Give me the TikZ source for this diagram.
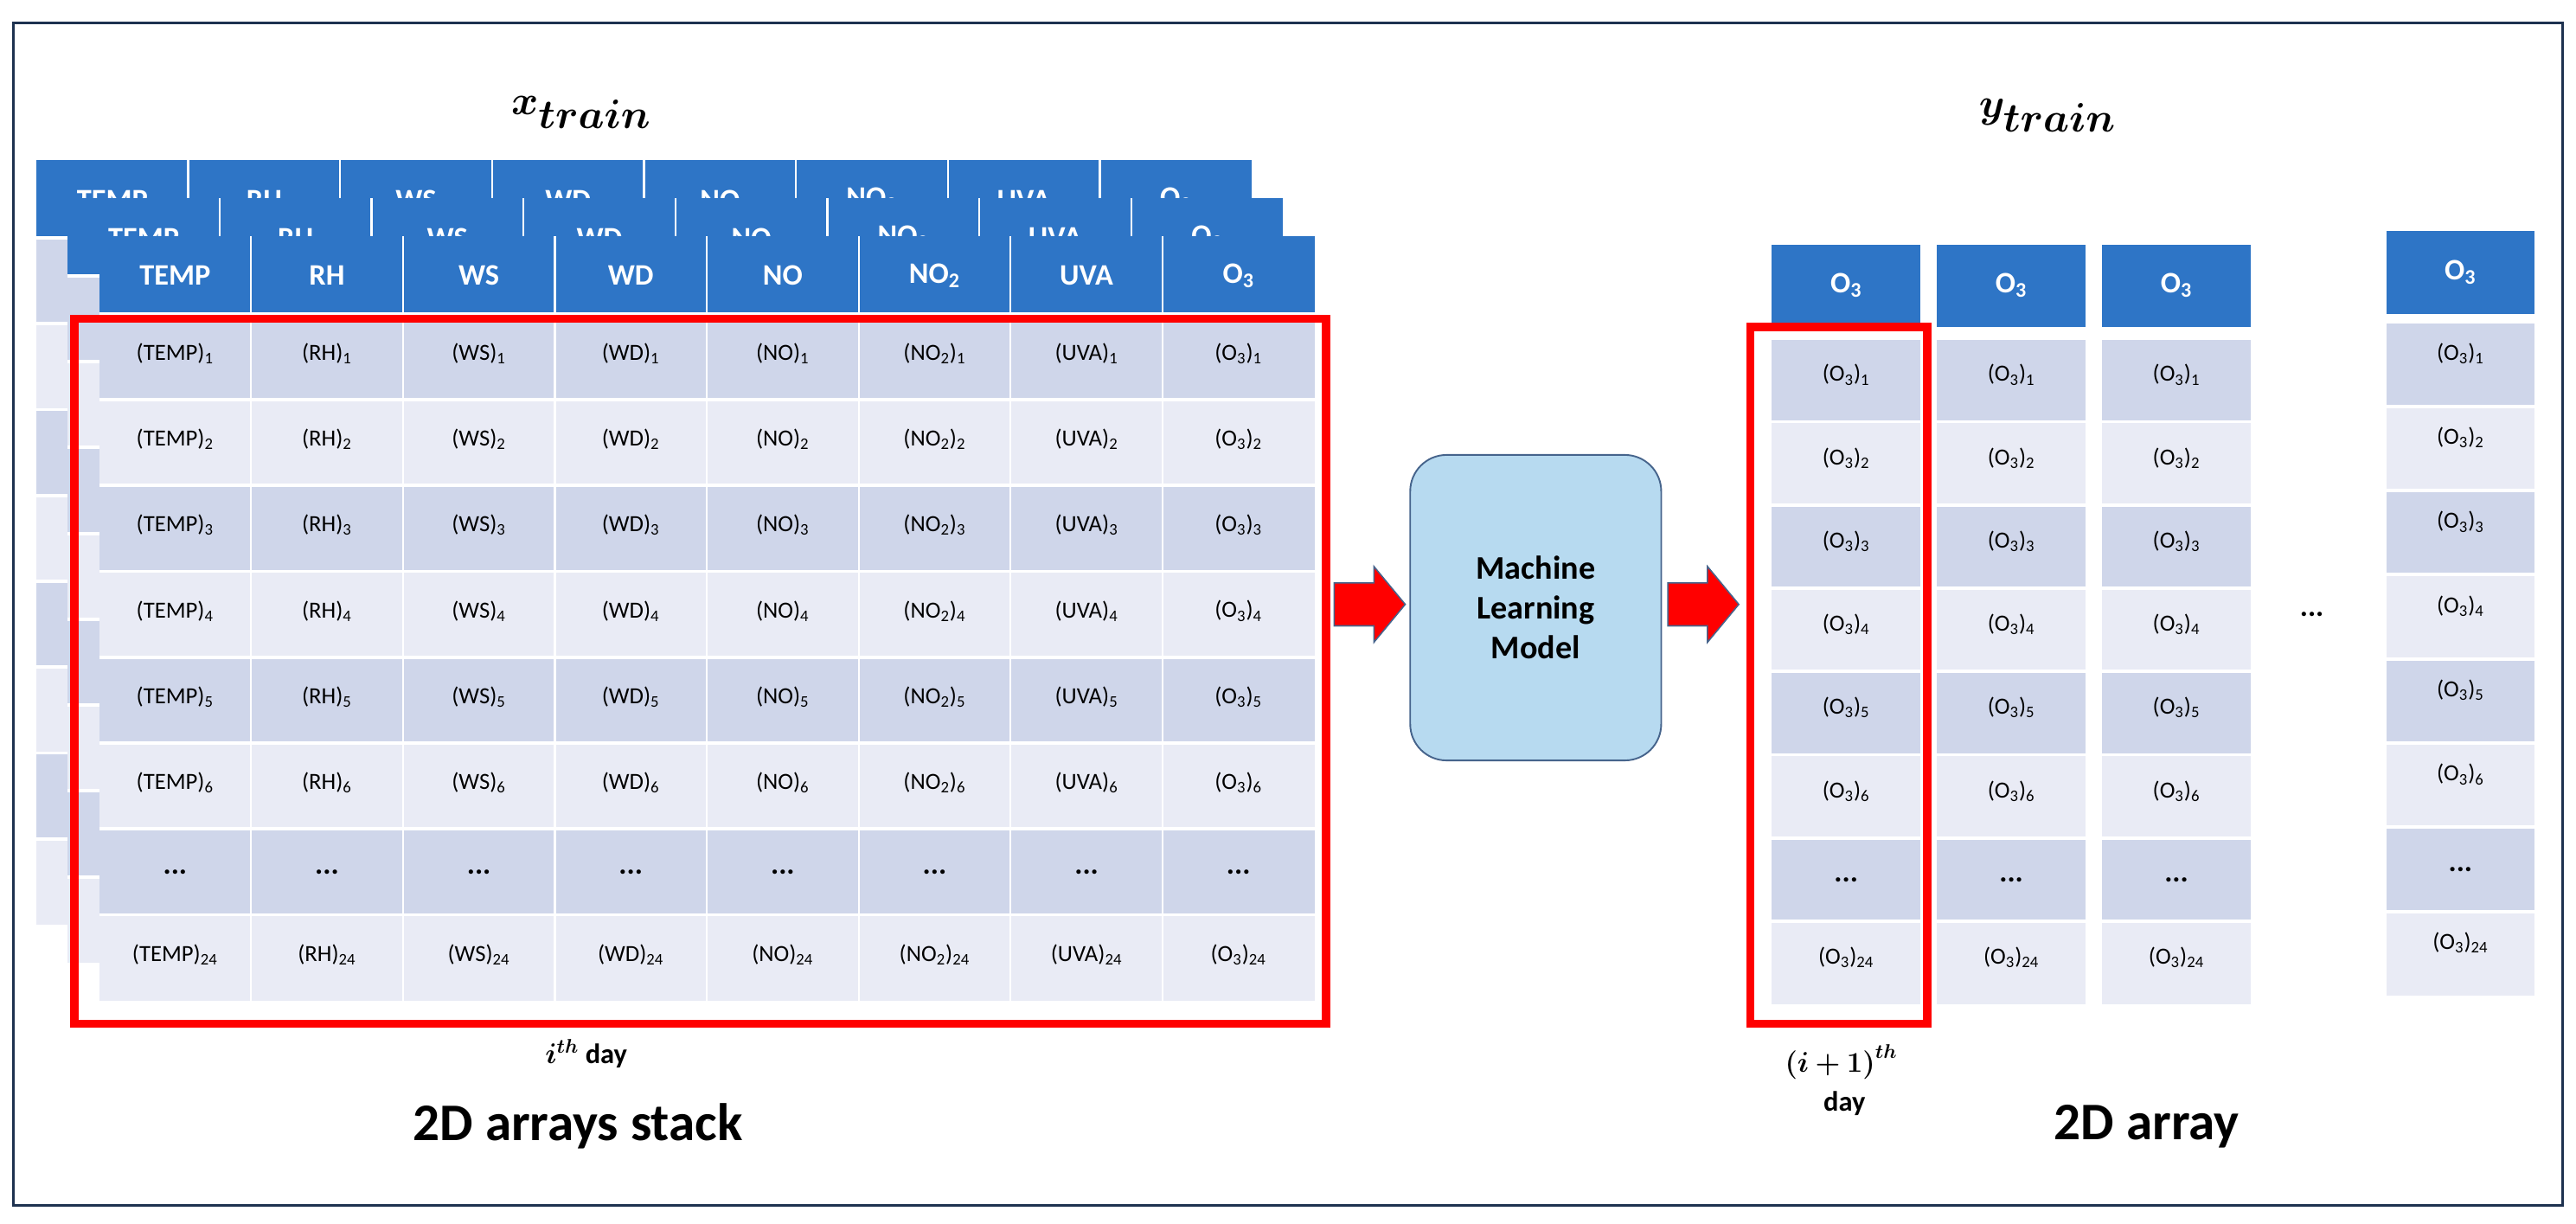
\documentclass[tikz,border=0pt]{standalone}
\usepackage{bm}
\usepackage{fontspec}
\setmainfont{Carlito}
\definecolor{hdr}{RGB}{46,117,198}
\definecolor{dk}{RGB}{207,214,234}
\definecolor{lt}{RGB}{233,235,245}
\definecolor{frm}{RGB}{30,50,80}
\definecolor{mlfill}{RGB}{183,218,240}
\definecolor{mlline}{RGB}{70,100,140}
\tikzset{
  hcell/.style={text=white,font=\fontsize{18}{20}\selectfont\bfseries},
  dcell/.style={text=black,font=\fontsize{14}{16}\selectfont},
  redbox/.style={draw=red,line width=5pt},
  blk/.style={fill=red,draw=mlline,line width=0.8pt},
  big/.style={font=\fontsize{32}{36}\selectfont\bfseries},
  ttl/.style={font=\fontsize{40}{44}\selectfont},
  lbl/.style={font=\fontsize{17}{20}\selectfont\bfseries},
}
\newcommand\drawtbl[2]{%
  \fill[hdr] (#1,#2) rectangle ++(736,47);
  \foreach \r in {0,...,7}{%
    \pgfmathsetmacro\rc{mod(\r,2)==0 ? 1 : 0}%
    \ifdim\rc pt>0.5pt \fill[dk] ({#1},{#2+47+52*\r}) rectangle ++(736,52);
    \else \fill[lt] ({#1},{#2+47+52*\r}) rectangle ++(736,52);\fi
    \draw[white,line width=2pt] ({#1},{#2+47+52*\r}) -- ++(736,0);
  }
  \foreach \i in {1,...,7}{\draw[white,line width=1.2pt] ({#1+92*\i},{#2}) -- ++(0,463);}
  \foreach \i/\h in {0/TEMP,1/RH,2/WS,3/WD,4/NO,5/{NO\textsubscript{2}},6/UVA,7/{O\textsubscript{3}}}{%
    \node[hcell] at ({#1+92*\i+46},{#2+24}) {\h};
    \foreach \r/\s in {0/1,1/2,2/3,3/4,4/5,5/6,6/0,7/24}{%
      \ifnum\s=0 \node[dcell,font=\fontsize{18}{18}\selectfont\bfseries] at ({#1+92*\i+46},{#2+47+52*\r+26}) {...};
      \else \node[dcell] at ({#1+92*\i+46},{#2+47+52*\r+24}) {(\h)\textsubscript{\s}};\fi
    }
  }
}
\newcommand\ycol[5]{% x, header top, data top, row h, text offset
  \fill[hdr] (#1,#2) rectangle ++(90,50);
  \node[hcell] at ({#1+45},{#2+25}) {O\textsubscript{3}};
  \foreach \r/\s in {0/1,1/2,2/3,3/4,4/5,5/6,6/0,7/24}{%
    \pgfmathsetmacro\rc{mod(\r,2)==0 ? 1 : 0}%
    \ifdim\rc pt>0.5pt \fill[dk] ({#1},{#3+#4*\r}) rectangle ++(90,#4);
    \else \fill[lt] ({#1},{#3+#4*\r}) rectangle ++(90,#4);\fi
    \draw[white,line width=2pt] ({#1},{#3+#4*\r}) -- ++(90,0);
    \ifnum\s=0 \node[dcell,font=\fontsize{18}{18}\selectfont\bfseries] at ({#1+45},{#3+#4*\r+#4/2}) {...};
    \else \node[dcell] at ({#1+45},{#3+#4*\r+#5}) {(O\textsubscript{3})\textsubscript{\s}};\fi
  }
}
\begin{document}
\begin{tikzpicture}[x=1pt,y=-1pt]
\useasboundingbox (0,0) rectangle (1560,741);
\fill[white] (0,0) rectangle (1560,741);
\draw[frm,line width=1.5pt] (8,14) rectangle (1552,730);
\node[ttl] (xt) at (352,68) {$\bm{x_{train}}$};
\node[ttl] (yt) at (1240,70) {$\bm{y_{train}}$};
\drawtbl{22}{97}
\drawtbl{41}{120}
\drawtbl{60}{143}
\draw[redbox] (45,193) rectangle (803,620);
\node[lbl] (id) at (355,638) {$\bm{i^{th}}$ day};
\node[big] (st) at (350,682) {2D arrays stack};
\node[draw=mlline,fill=mlfill,rounded corners=22pt,line width=1pt,minimum width=152pt,minimum height=185pt,align=center,font=\fontsize{20}{24}\selectfont\bfseries] (ml) at (930,368) {Machine\\Learning\\Model};
\draw[blk] (808,353) -- (832,353) -- (832,343) -- (851,366) -- (832,389) -- (832,379) -- (808,379) -- cycle;
\draw[blk] (1010,353) -- (1034,353) -- (1034,343) -- (1053,366) -- (1034,389) -- (1034,379) -- (1010,379) -- cycle;
\ycol{1073}{148}{205}{50.4}{22}
\ycol{1173}{148}{205}{50.4}{22}
\ycol{1273}{148}{205}{50.4}{22}
\ycol{1445}{140}{195}{51}{19}
\node[font=\fontsize{18}{18}\selectfont\bfseries] (dd) at (1400,372) {...};
\draw[redbox] (1060,198) rectangle (1167,620);
\node[lbl] (ip) at (1115,643) {$\bm{(i+1)^{th}}$};
\node[lbl] (dy) at (1117,668) {day};
\node[big] (ar) at (1300,682) {2D array};
\end{tikzpicture}
\end{document}
